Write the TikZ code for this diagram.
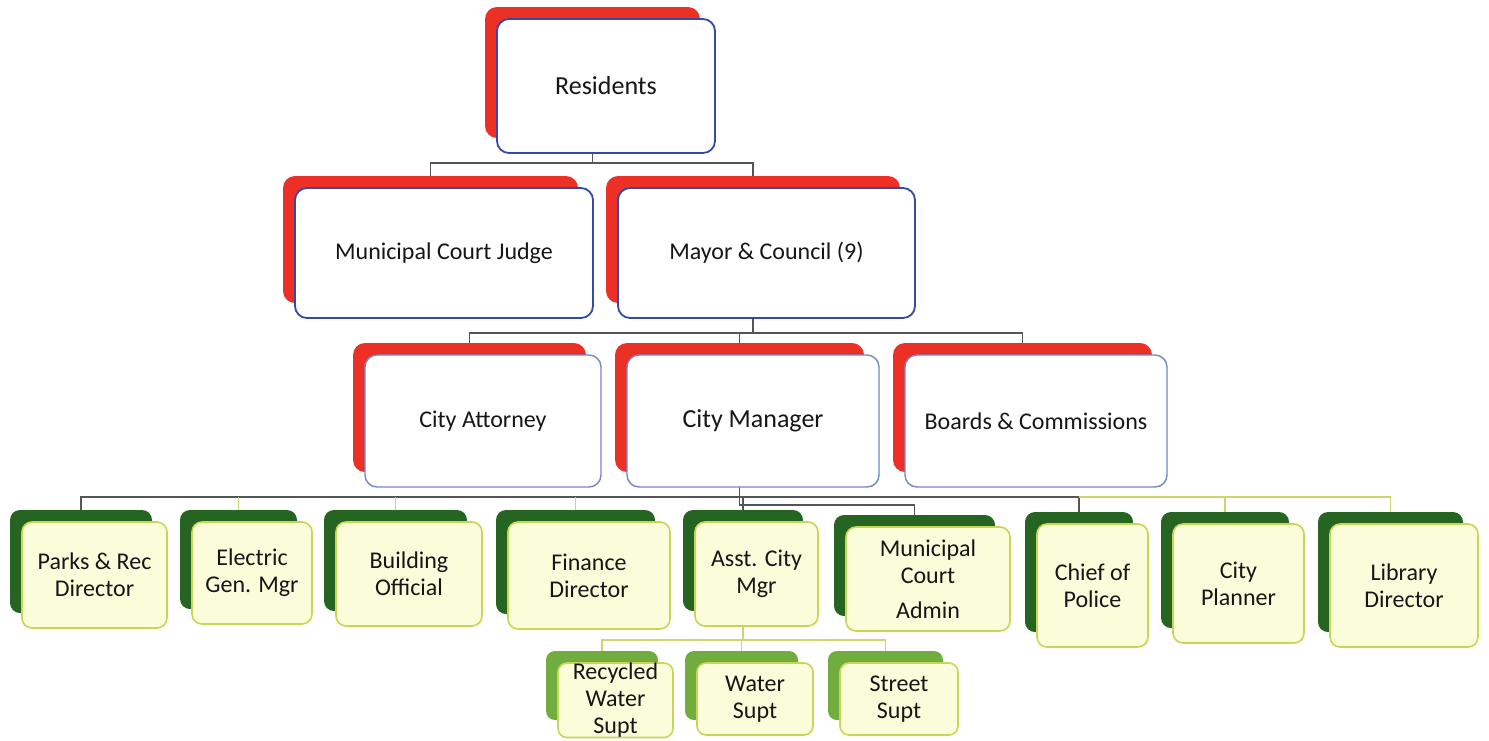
\documentclass[tikz,border=0pt]{standalone}
\usepackage{fontspec}
\setmainfont{Carlito}
\usetikzlibrary{backgrounds}
\definecolor{redsh}{RGB}{236,48,38}
\definecolor{bluebd}{RGB}{50,75,170}
\definecolor{lbluebd}{RGB}{115,135,205}
\definecolor{dgreen}{RGB}{38,100,34}
\definecolor{lgreen}{RGB}{112,172,62}
\definecolor{cream}{RGB}{251,252,218}
\definecolor{limebd}{RGB}{200,214,85}
\definecolor{darkln}{RGB}{85,85,85}
\definecolor{lightln}{RGB}{205,215,110}
\definecolor{txt}{RGB}{22,22,22}

% box with an offset backing card: name, x0, y0, width, height, backing style, face style, label
\newcommand\orgbox[8]{%
  \node[#6, anchor=north west, minimum width={#4-3}, minimum height={#5-3}] (#1S) at (#2-12,#3-12) {};
  \node[#7, anchor=north west, minimum width=#4, minimum height=#5] (#1) at (#2,#3) {#8};
}

\begin{document}
\begin{tikzpicture}[x=1pt,y=-1pt,
  card/.style={rounded corners=12pt, inner sep=0pt, outer sep=0pt},
  redcard/.style={card, fill=redsh},
  dgcard/.style={card, fill=dgreen, rounded corners=10pt},
  lgcard/.style={card, fill=lgreen, rounded corners=9pt},
  topface/.style={card, fill=white, draw=bluebd, line width=1.8pt, text=txt, align=center, font=\fontsize{24}{28}\selectfont},
  midface/.style={card, fill=white, draw=lbluebd, line width=1.4pt, text=txt, align=center, font=\fontsize{24}{28}\selectfont},
  leafface/.style={card, rounded corners=10pt, fill=cream, draw=limebd, line width=1.6pt, text=txt, align=center, font=\fontsize{24}{27}\selectfont},
  subface/.style={leafface, rounded corners=9pt},
  conn/.style={draw=darkln, line width=1.5pt},
  lconn/.style={draw=lightln, line width=1.5pt}]

\useasboundingbox (0,0) rectangle (1489,740);

% ---- boxes ----
\orgbox{res}{497}{19}{218}{134}{redcard}{topface}{\fontsize{26}{30}\selectfont Residents}

\orgbox{mcj}{295}{188}{298}{130}{redcard}{topface}{Municipal Court Judge}
\orgbox{may}{618}{188}{297}{130}{redcard}{topface}{Mayor \& Council (9)}

\orgbox{ca}{365}{355}{236}{132}{redcard}{midface}{City Attorney}
\orgbox{cm}{627}{355}{252}{132}{redcard}{midface}{\fontsize{26}{30}\selectfont City Manager}
\orgbox{bc}{905}{355}{262}{132}{redcard}{midface}{Boards \& Commissions}

\orgbox{parks}{22}{522}{145}{106}{dgcard}{leafface}{Parks \& Rec\\Director}
\orgbox{elec}{192}{522}{120}{102}{dgcard}{leafface}{Electric\\Gen. Mgr}
\orgbox{bld}{336}{522}{146}{104}{dgcard}{leafface}{Building\\Official}
\orgbox{fin}{508}{522}{162}{107}{dgcard}{leafface}{Finance\\Director}
\orgbox{asst}{695}{522}{123}{104}{dgcard}{leafface}{Asst. City\\Mgr}
\orgbox{mca}{846}{527}{164}{104}{dgcard}{leafface}{Municipal\\Court\\[8pt]Admin}
\orgbox{chief}{1037}{524}{111}{123}{dgcard}{leafface}{Chief of\\Police}
\orgbox{plan}{1173}{524}{131}{119}{dgcard}{leafface}{City\\Planner}
\orgbox{lib}{1330}{524}{148}{123}{dgcard}{leafface}{Library\\Director}

\orgbox{rw}{558}{663}{115}{72}{lgcard}{subface}{Recycled\\Water\\Supt}
\orgbox{ws}{697}{663}{116}{72}{lgcard}{subface}{Water\\Supt}
\orgbox{ss}{840}{663}{118}{72}{lgcard}{subface}{Street\\Supt}

% ---- connectors, behind the cards ----
\begin{scope}[on background layer]
  % Residents -> level 2
  \draw[conn] (resS |- res.south) -- ++(0,10) coordinate (j1);
  \draw[conn] (j1) -| (mcjS.north);
  \draw[conn] (j1) -| (mayS.north);
  % Mayor & Council -> level 3
  \draw[conn] (mayS |- may.south) -- ++(0,15) coordinate (j2);
  \draw[conn] (j2) -| (caS.north);
  \draw[conn] (j2) -| (cmS.north);
  \draw[conn] (j2) -| (bcS.north);
  % City Manager -> departments
  \draw[conn] (cmS |- cm.south) -- ++(0,10) coordinate (j3);
  \draw[conn] (j3) -| (parksS.north);
  \draw[conn] (j3) -| (chiefS.north);
  \draw[lconn] (elecS.north) -- (elecS.north |- j3);
  \draw[lconn] (bldS.north) -- (bldS.north |- j3);
  \draw[lconn] (finS.north) -- (finS.north |- j3);
  \draw[lconn] (chiefS.north |- j3) -| (libS.north);
  \draw[lconn] (planS.north) -- (planS.north |- j3);
  \draw[conn] (asstS.north) -- (asstS.north |- j3);
  \draw[conn] (j3) -- ++(0,8) coordinate (j4) -| (mcaS.north);
  % Asst. City Mgr -> superintendents
  \draw[lconn] (asstS |- asst.south) -- ++(0,14) coordinate (j5);
  \draw[lconn] (j5) -| (rwS.north);
  \draw[lconn] (j5) -| (wsS.north);
  \draw[lconn] (j5) -| (ssS.north);
\end{scope}
\end{tikzpicture}
\end{document}
